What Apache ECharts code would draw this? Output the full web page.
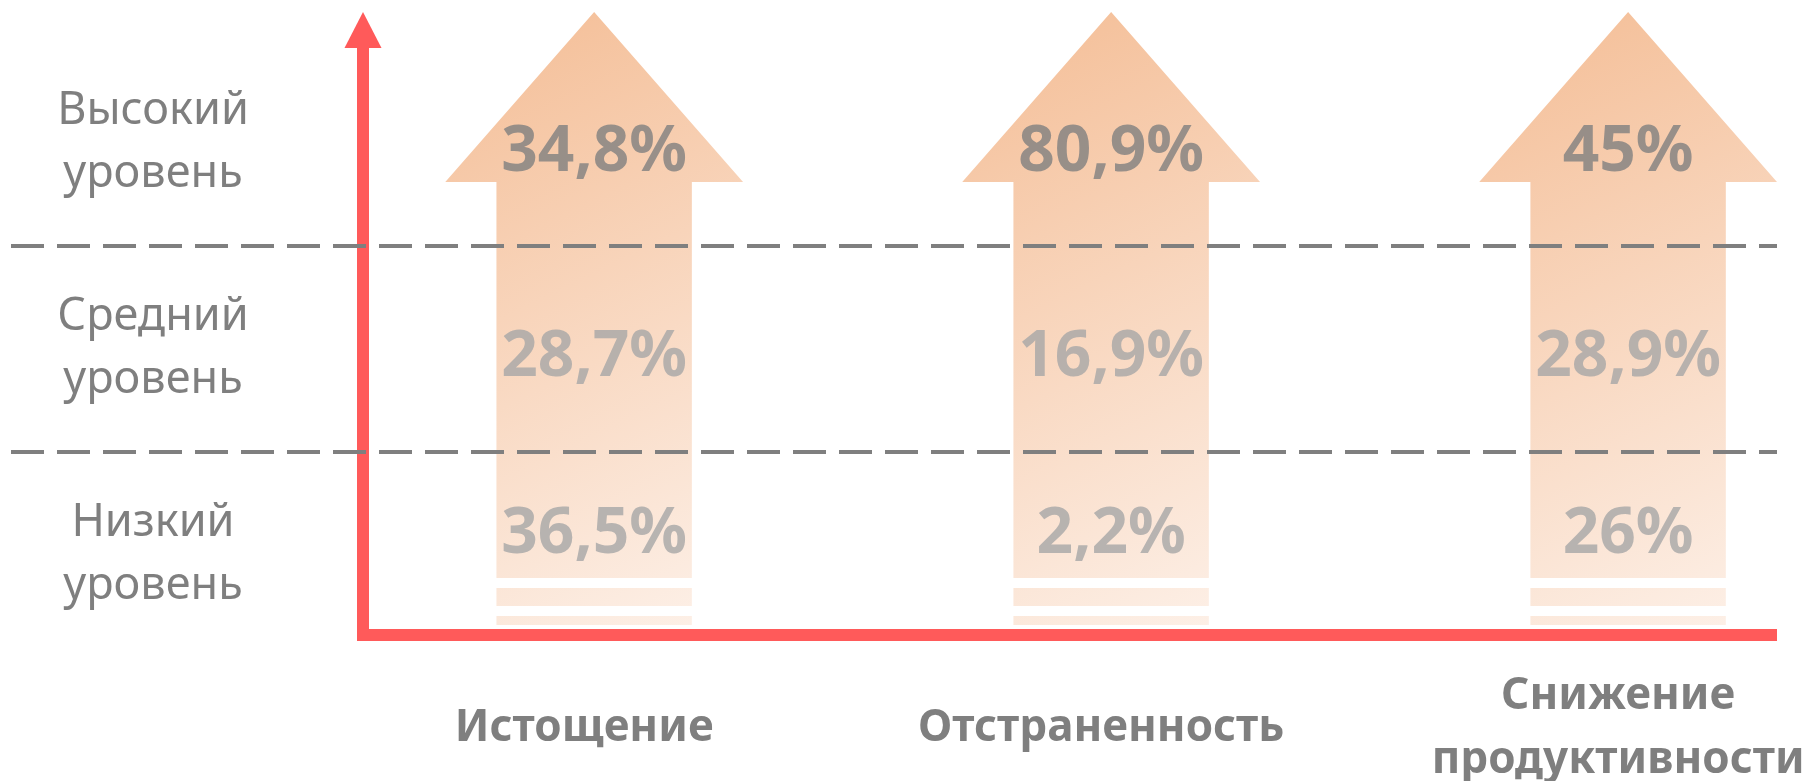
<!DOCTYPE html>
<html lang="ru">
<head>
    <meta charset="UTF-8">
    <title>Уровни выгорания</title>
    <script src="https://cdn.jsdelivr.net/npm/echarts@6/dist/echarts.min.js"></script>
</head>
<body style="margin: 0; background: #ffffff">
<div id="chart" style="width: 1802px; height: 781px"></div>

<script>
    // data
    let categories = ['Истощение', 'Отстраненность', 'Снижение\nпродуктивности'];
    let levels = ['Низкий\nуровень', 'Средний\nуровень', 'Высокий\nуровень'];
    let highValues = [34.8, 80.9, 45];
    let midValues = [28.7, 16.9, 28.9];
    let lowValues = [36.5, 2.2, 26];

    const RED = '#FF5A5A';
    const GREY = '#7F7F7F';
    const LIGHT_GREY = '#A6A6A6';
    const FONT = "'Noto Sans', sans-serif";

    function fmt(v) {
        return String(v).replace('.', ',') + '%';
    }

    // big decorative arrow behind every category
    function renderArrow(params, api) {
        let cs = params.coordSys;
        let cx = api.coord([api.value(0), 0])[0];
        let unit = api.size([1, 0])[0];
        let head = unit * 0.288;
        let shaft = unit * 0.189;
        let top = cs.y - 28;
        let neck = cs.y + 142;
        let bottom = cs.y + cs.height;
        let fill = {
            type: 'linear', global: true,
            x: cx - head, y: top, x2: cx + head, y2: bottom - 33,
            colorStops: [{offset: 0, color: '#F4BD95'}, {offset: 1, color: '#FDF1E9'}]
        };
        return {
            type: 'group',
            children: [
                {
                    type: 'polygon',
                    shape: {
                        points: [
                            [cx, top], [cx + head, neck], [cx + shaft, neck], [cx + shaft, bottom - 80],
                            [cx - shaft, bottom - 80], [cx - shaft, neck], [cx - head, neck]
                        ]
                    },
                    style: {fill: fill}
                },
                {type: 'rect', shape: {x: cx - shaft, y: bottom - 70, width: shaft * 2, height: 18}, style: {fill: fill}},
                {type: 'rect', shape: {x: cx - shaft, y: bottom - 42, width: shaft * 2, height: 9}, style: {fill: fill}}
            ]
        };
    }

    function valueSeries(name, values, level, color, dy) {
        return {
            name: name,
            type: 'scatter',
            xAxisIndex: 0,
            yAxisIndex: 0,
            z: 5,
            symbolSize: 1,
            itemStyle: {color: 'transparent'},
            data: values.map(function (v, i) { return [i, level, v]; }),
            label: {
                show: true,
                position: 'inside',
                offset: [0, dy],
                formatter: function (p) { return fmt(p.value[2]); },
                fontFamily: FONT,
                fontWeight: 'bold',
                fontSize: 64,
                color: color
            }
        };
    }

    let myChart = echarts.init(document.getElementById('chart'));
    let option = {
        animation: false,
        backgroundColor: '#ffffff',
        grid: [
            // levels, dashed separators and values
            {left: 11, right: 25, top: 40, bottom: 123, outerBoundsMode: 'none'},
            // red frame axes
            {left: 363, right: 31, top: 30, bottom: 146, outerBoundsMode: 'none'}
        ],
        xAxis: [
            {
                gridIndex: 0,
                type: 'value',
                min: -1.128,
                max: 2.288,
                axisLine: {show: false},
                axisTick: {show: false},
                splitLine: {show: false},
                axisLabel: {
                    customValues: [0, 1, 2],
                    formatter: function (v) { return categories[v]; },
                    margin: 70,
                    verticalAlign: 'middle',
                    lineHeight: 64,
                    padding: [0, 20, 0, 0],
                    fontFamily: FONT,
                    fontWeight: 'bold',
                    fontSize: 44,
                    color: GREY
                }
            },
            {
                gridIndex: 1,
                type: 'value',
                min: 0,
                max: 1,
                axisLine: {onZero: false, lineStyle: {color: RED, width: 12, cap: 'square'}},
                axisTick: {show: false},
                axisLabel: {show: false},
                splitLine: {show: false}
            }
        ],
        yAxis: [
            {
                gridIndex: 0,
                type: 'category',
                data: levels,
                offset: -142,
                z: 3,
                axisLine: {show: false},
                axisTick: {show: false},
                axisLabel: {
                    interval: 0,
                    margin: 0,
                    align: 'center',
                    lineHeight: 63,
                    padding: [9, 0, 0, 0],
                    fontFamily: FONT,
                    fontSize: 45,
                    color: GREY
                },
                splitLine: {
                    show: true,
                    interval: 0,
                    showMinLine: false,
                    showMaxLine: false,
                    lineStyle: {color: GREY, width: 4, type: [33, 13]}
                }
            },
            {
                gridIndex: 1,
                type: 'value',
                min: 0,
                max: 1,
                axisLine: {
                    onZero: false,
                    symbol: ['none', 'triangle'],
                    symbolSize: [37, 36],
                    lineStyle: {color: RED, width: 12, cap: 'square'}
                },
                axisTick: {show: false},
                axisLabel: {show: false},
                splitLine: {show: false}
            }
        ],
        series: [
            {
                type: 'custom',
                xAxisIndex: 0,
                yAxisIndex: 0,
                z: 1,
                silent: true,
                clip: false,
                renderItem: renderArrow,
                data: categories.map(function (c, i) { return [i, 0]; })
            },
            valueSeries('Высокий', highValues, 2, GREY, 10),
            valueSeries('Средний', midValues, 1, LIGHT_GREY, 9),
            valueSeries('Низкий', lowValues, 0, LIGHT_GREY, -20)
        ]
    };
    myChart.setOption(option);
</script>
</body>
</html>
